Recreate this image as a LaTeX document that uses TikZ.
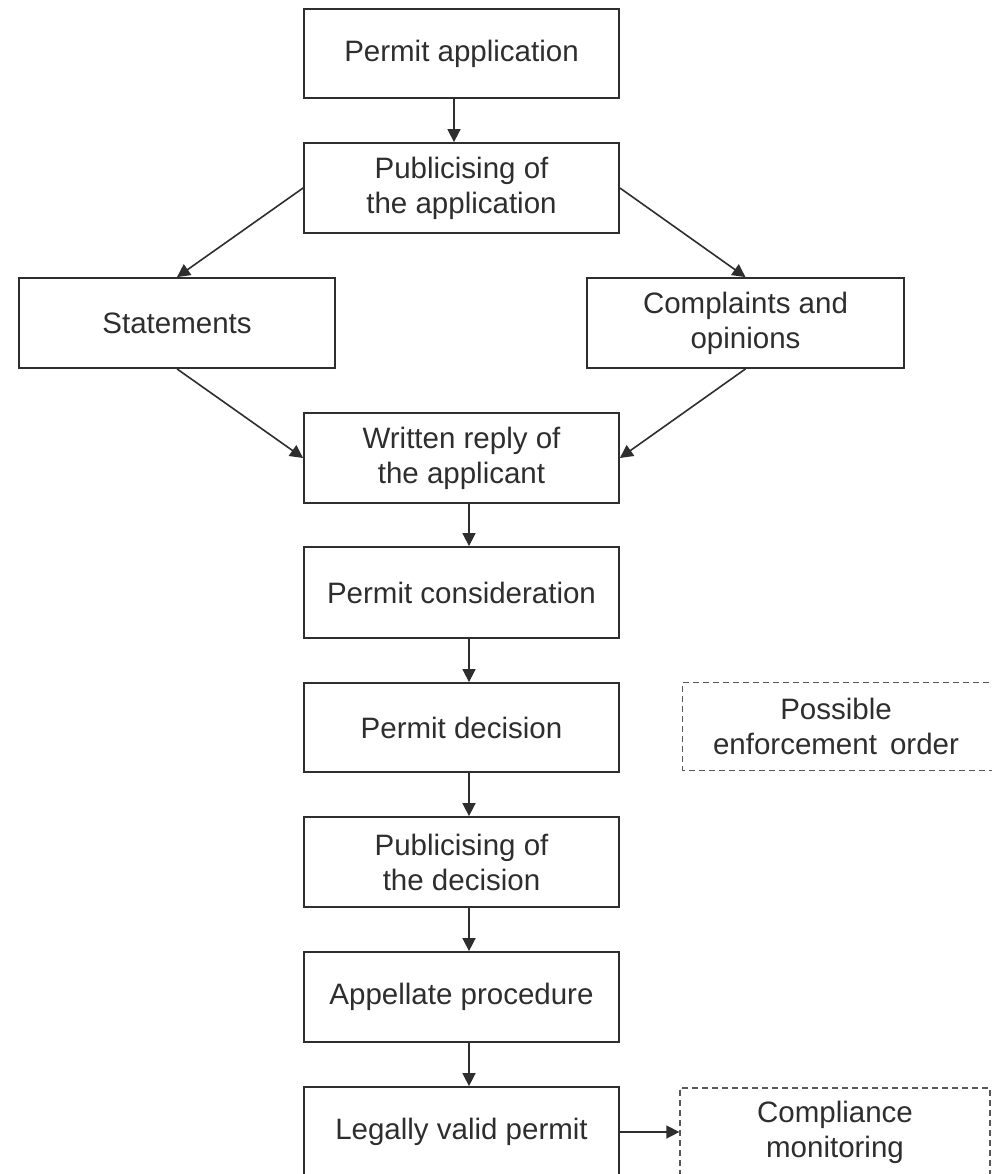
\documentclass[tikz,border=0pt]{standalone}
\usepackage{fontspec}
\setmainfont{Liberation Sans}
\usetikzlibrary{arrows.meta}
\definecolor{ink}{gray}{0.18}
\begin{document}
\begin{tikzpicture}[x=1pt,y=-1pt,
  box/.style={draw=ink, line width=1.8pt, rectangle, inner sep=0pt, align=center,
    text=ink, font=\fontsize{29.5}{35}\selectfont, minimum height=90pt, minimum width=315pt},
  dbox/.style={draw=ink!80, line width=1.3pt, dash pattern=on 6pt off 4pt, rectangle, inner sep=0pt,
    align=center, text=ink, font=\fontsize{29.5}{35}\selectfont, minimum height=88pt},
  plain/.style={rectangle, inner sep=0pt, align=center, text=ink,
    font=\fontsize{29.5}{35}\selectfont, minimum height=87pt},
  arr/.style={draw=ink, line width=1.6pt, -{Triangle[length=13pt,width=13pt]}}
]
\useasboundingbox[fill=white] (0,0) rectangle (992,1174);

\node[box, minimum height=89pt] (pa)  at (461.5,53.5) {Permit application};
\node[box] (pub) at (461.5,188) {Publicising of\\the application};
\node[box, minimum width=316pt] (st)  at (177,323) {Statements};
\node[box, minimum width=317pt] (co)  at (745.5,323) {Complaints and\\opinions};
\node[box] (wr)  at (461.5,458) {Written reply of\\the applicant};
\node[box, minimum height=91pt] (pc)  at (461.5,592.5) {Permit consideration};
\node[box, minimum height=89pt] (pd)  at (461.5,727.5) {Permit decision};
\node[box] (pdc) at (461.5,862) {Publicising of\\the decision};
\node[box] (ap)  at (461.5,997) {Appellate procedure};
\node[box] (lv)  at (461.5,1132) {Legally valid permit};
\node[dbox, minimum width=310pt] (cm) at (835,1132) {Compliance\\monitoring};
\node[plain, minimum width=306pt] (en) at (836,726.5) {Possible\\enforcement\ \,order};
\draw[draw=ink!80, line width=1.3pt, dash pattern=on 6pt off 4pt]
  ([xshift=30pt]en.north east) -- (en.north west) -- (en.south west) -- ([xshift=30pt]en.south east);

\draw[arr] ([xshift=-7.5pt]pa.south) -- ([xshift=-7.5pt]pub.north);
\draw[arr] (pub.west) -- (st.north);
\draw[arr] (pub.east) -- (co.north);
\draw[arr] (st.south) -- (wr.west);
\draw[arr] (co.south) -- (wr.east);
\draw[arr] ([xshift=7.5pt]wr.south) -- ([xshift=7.5pt]pc.north);
\draw[arr] ([xshift=7.5pt]pc.south) -- ([xshift=7.5pt]pd.north);
\draw[arr] ([xshift=7.5pt]pd.south) -- ([xshift=7.5pt]pdc.north);
\draw[arr] ([xshift=7.5pt]pdc.south) -- ([xshift=7.5pt]ap.north);
\draw[arr] ([xshift=7.5pt]ap.south) -- ([xshift=7.5pt]lv.north);
\draw[arr] (lv.east) -- (cm.west);
\end{tikzpicture}
\end{document}
